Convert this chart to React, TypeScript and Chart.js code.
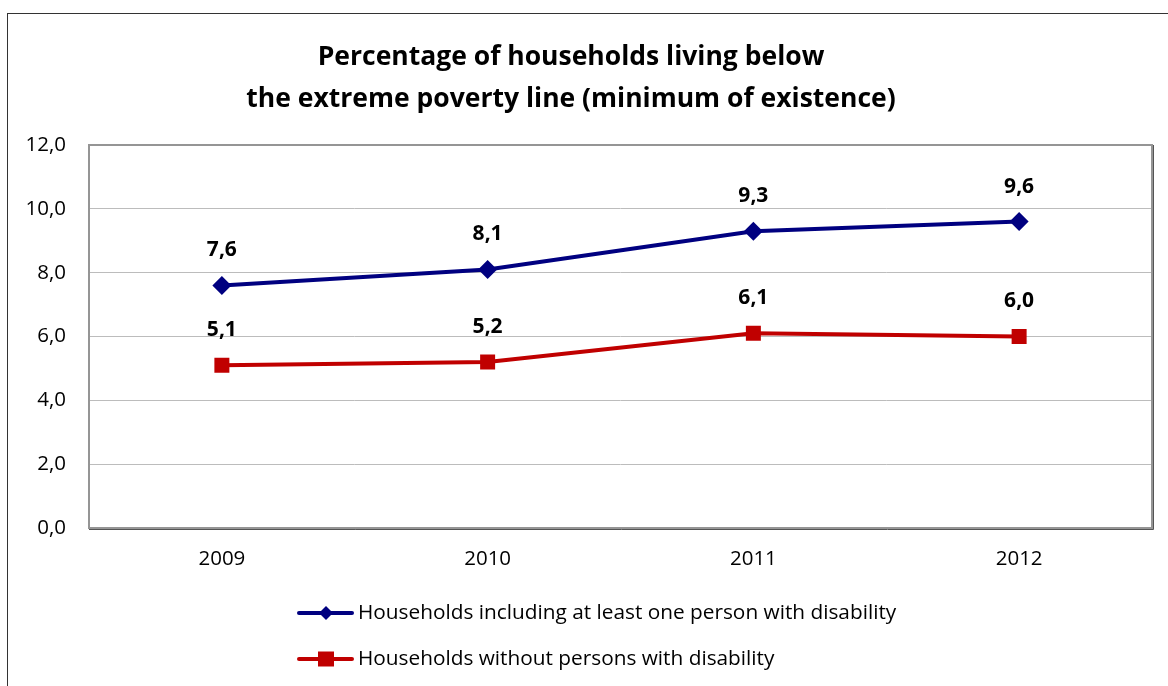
import React, { useEffect, useRef } from "react";
import { Chart, registerables } from "chart.js";

Chart.register(...registerables);

const categories = ["2009", "2010", "2011", "2012"];
const withDisability = [7.6, 8.1, 9.3, 9.6];
const withoutDisability = [5.1, 5.2, 6.1, 6.0];
const seriesLabels = [
  "Households including at least one person with disability",
  "Households without persons with disability",
];
const titleLines = [
  "Percentage of households living below",
  "the extreme poverty line (minimum of existence)",
];

const FONT = "'Open Sans', sans-serif";
const fmt = (v: number) => v.toFixed(1).replace(".", ",");

export default function App() {
  const ref = useRef<HTMLCanvasElement | null>(null);
  useEffect(() => {
    document.body.style.overflow = "hidden";
    const canvas = ref.current!;
    const framePlugin = {
      id: "frame",
      beforeDatasetsDraw(chart: any) {
        const { ctx, chartArea: a } = chart;
        ctx.save();
        ctx.strokeStyle = "#959595";
        ctx.lineWidth = 2;
        ctx.strokeRect(a.left, a.top, a.right - a.left, a.bottom - a.top);
        ctx.strokeStyle = "#555";
        ctx.lineWidth = 1;
        ctx.beginPath();
        ctx.moveTo(a.left, a.bottom + 1.5);
        ctx.lineTo(a.right + 1.5, a.bottom + 1.5);
        ctx.lineTo(a.right + 1.5, a.top);
        ctx.stroke();
        ctx.restore();
      },
    };
    const extrasPlugin = {
      id: "extras",
      afterDraw(chart: any) {
        const { ctx } = chart;
        ctx.save();
        // title
        ctx.fillStyle = "#000";
        ctx.textAlign = "center";
        ctx.textBaseline = "middle";
        ctx.font = `bold 26.5px ${FONT}`;
        ctx.fillText(titleLines[0], 563, 43);
        ctx.fillText(titleLines[1], 563, 85);
        // data labels
        ctx.font = `bold 21px ${FONT}`;
        chart.data.datasets.forEach((ds: any, i: number) => {
          const meta = chart.getDatasetMeta(i);
          meta.data.forEach((pt: any, j: number) => {
            ctx.fillText(fmt(ds.data[j]), pt.x, pt.y - 35);
          });
        });
        // legend
        const rows = [599, 645];
        chart.data.datasets.forEach((ds: any, i: number) => {
          const y = rows[i];
          ctx.strokeStyle = ds.borderColor;
          ctx.lineWidth = 4;
          ctx.lineCap = "round";
          ctx.beginPath();
          ctx.moveTo(291, y);
          ctx.lineTo(344, y);
          ctx.stroke();
          ctx.fillStyle = ds.backgroundColor;
          ctx.beginPath();
          if (ds.pointStyle === "rectRot") {
            const r = 7;
            ctx.moveTo(318 - r, y);
            ctx.lineTo(318, y - r);
            ctx.lineTo(318 + r, y);
            ctx.lineTo(318, y + r);
            ctx.closePath();
          } else {
            ctx.rect(318 - 8, y - 7.5, 16, 15);
          }
          ctx.fill();
          ctx.fillStyle = "#000";
          ctx.textAlign = "left";
          ctx.font = `20.8px ${FONT}`;
          ctx.fillText(ds.label, 350, y);
        });
        ctx.restore();
      },
    };
    const chart = new Chart(canvas, {
      type: "line",
      data: {
        labels: categories,
        datasets: [
          {
            label: seriesLabels[0],
            data: withDisability,
            borderColor: "#000080",
            backgroundColor: "#000080",
            borderWidth: 4,
            pointStyle: "rectRot",
            pointRadius: 9.5,
            pointBorderWidth: 0,
            tension: 0,
          },
          {
            label: seriesLabels[1],
            data: withoutDisability,
            borderColor: "#C00000",
            backgroundColor: "#C00000",
            borderWidth: 4,
            pointStyle: "rect",
            pointRadius: 10.6,
            pointBorderWidth: 0,
            tension: 0,
          },
        ],
      },
      options: {
        animation: false,
        responsive: false,
        maintainAspectRatio: false,
        layout: { padding: { top: 131, right: 16, left: 0, bottom: 115 } },
        plugins: {
          legend: { display: false },
          title: { display: false },
          tooltip: { enabled: false },
        },
        scales: {
          x: {
            offset: true,
            grid: { display: false, drawTicks: false },
            border: { display: false },
            ticks: { color: "#000", font: { family: FONT, size: 20.5 }, padding: 19 },
            afterFit: (s: any) => {
              s.height = 43;
            },
          },
          y: {
            min: 0,
            max: 12,
            grid: { color: "#bcbcbc", lineWidth: 1, drawTicks: false },
            border: { display: false },
            ticks: {
              stepSize: 2,
              color: "#000",
              font: { family: FONT, size: 20.5 },
              padding: 23,
              callback: (v: any) => fmt(Number(v)),
            },
            afterFit: (s: any) => {
              s.width = 81;
            },
          },
        },
      },
      plugins: [framePlugin, extrasPlugin],
    });
    return () => chart.destroy();
  }, []);
  return (
    <div>
      <div
        style={{
          position: "fixed",
          left: 7,
          top: 13,
          width: 1300,
          height: 800,
          border: "1px solid #333",
          boxSizing: "border-box",
        }}
      />
      <canvas
        ref={ref}
        width={1160}
        height={672}
        style={{ position: "fixed", left: 8, top: 14, width: 1160, height: 672 }}
      />
    </div>
  );
}
